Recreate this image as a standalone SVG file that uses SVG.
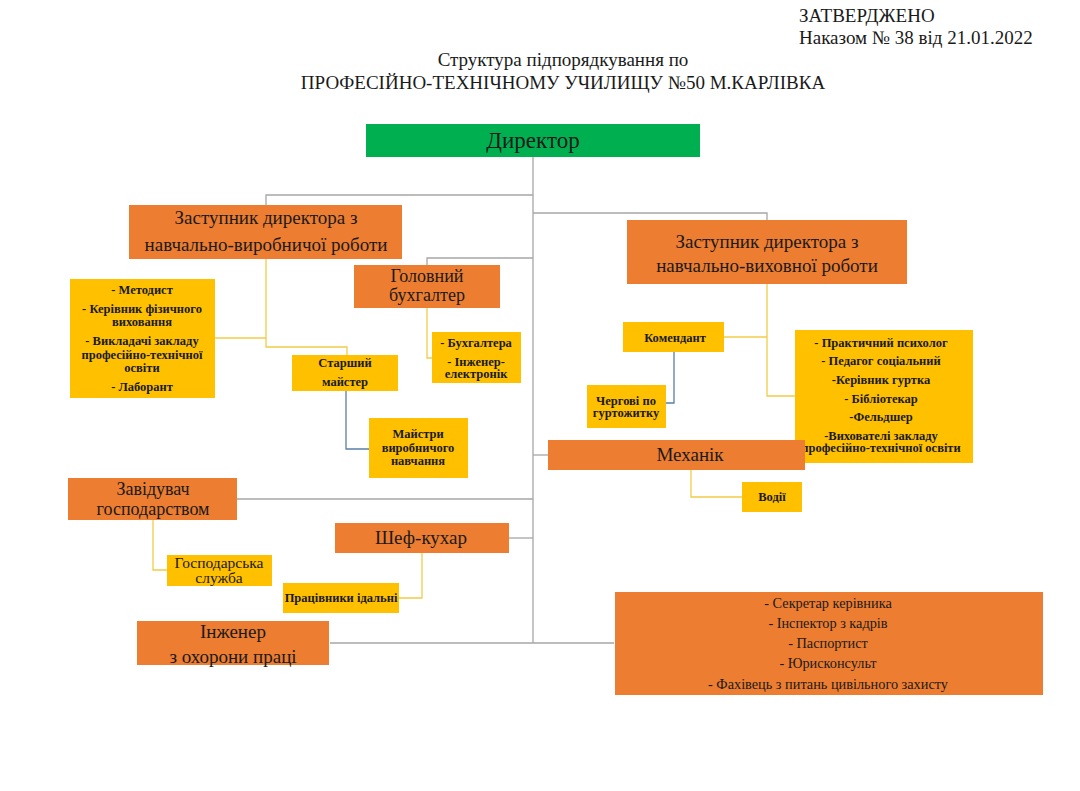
<svg xmlns="http://www.w3.org/2000/svg" width="1080" height="791" viewBox="0 0 1080 791">
<style>
text{font-family:"Liberation Serif","Times New Roman","DejaVu Serif",serif;fill:#1a1a1a;text-anchor:middle}
.hdr{text-anchor:start;font-size:19px}
.ttl{font-size:19px}
.or{fill:#ED7D31}
.ye{fill:#FFC000}
.gr{fill:#00B050}
.big{font-size:19px}
.mid{font-size:18px}
.sm{font-size:12.5px;font-weight:bold}
.sc{font-size:14.3px}
.g{stroke:#A6A6A6;stroke-width:1.3;fill:none}
.y{stroke:#F2CC4A;stroke-width:1.3;fill:none}
.b{stroke:#5A7FA8;stroke-width:1.3;fill:none}
</style>
<rect width="1080" height="791" fill="#ffffff"/>
<g id="header">
<text class="hdr" x="799" y="22">ЗАТВЕРДЖЕНО</text>
<text class="hdr" x="799" y="44">Наказом № 38 від 21.01.2022</text>
<text class="ttl" x="563" y="66">Структура підпорядкування по</text>
<text class="ttl" x="563" y="89">ПРОФЕСІЙНО-ТЕХНІЧНОМУ УЧИЛИЩУ №50 М.КАРЛІВКА</text>
</g>
<g id="connectors">
<path class="g" d="M533,157 V643"/>
<path class="g" d="M533,195 H266 V205"/>
<path class="g" d="M533,213 H767 V220"/>
<path class="g" d="M533,258 H427 V265"/>
<path class="g" d="M533,455 H548"/>
<path class="g" d="M533,499 H237"/>
<path class="g" d="M533,538 H509"/>
<path class="g" d="M330,643 H614"/>
<path class="y" d="M266,259 V347 H347 V355"/>
<path class="y" d="M215,338 H266"/>
<path class="y" d="M427,308 V358 H432"/>
<path class="b" d="M346,391 V449 H369"/>
<path class="y" d="M767,284 V396 H795"/>
<path class="y" d="M724,337 H767"/>
<path class="b" d="M674,352 V403 H666"/>
<path class="y" d="M691,470 V497 H742"/>
<path class="y" d="M153,520 V570 H167"/>
<path class="y" d="M422,553 V598 H399"/>
</g>
<g id="director">
<rect class="gr" x="366" y="124" width="334" height="33"/>
<text x="533" y="148" style="font-size:23px">Директор</text>
</g>
<g id="deputy-production">
<rect class="or" x="129" y="205" width="273" height="54"/>
<text class="big" x="266" y="224">Заступник директора з</text>
<text class="big" x="266" y="251">навчально-виробничої роботи</text>
</g>
<g id="methodist">
<rect class="ye" x="70" y="279" width="145" height="119"/>
<text class="sm" x="142" y="294">- Методист</text>
<text class="sm" x="142" y="313">- Керівник фізичного</text>
<text class="sm" x="142" y="326">виховання</text>
<text class="sm" x="142" y="345">- Викладачі закладу</text>
<text class="sm" x="142" y="359">професійно-технічної</text>
<text class="sm" x="142" y="372">освіти</text>
<text class="sm" x="142" y="391">- Лаборант</text>
</g>
<g id="senior-master">
<rect class="ye" x="292" y="355" width="106" height="36"/>
<text class="sm" x="345" y="367">Старший</text>
<text class="sm" x="345" y="386">майстер</text>
</g>
<g id="masters">
<rect class="ye" x="369" y="418" width="99" height="60"/>
<text class="sm" x="418" y="438">Майстри</text>
<text class="sm" x="418" y="452">виробничого</text>
<text class="sm" x="418" y="465">навчання</text>
</g>
<g id="chief-accountant">
<rect class="or" x="354" y="265" width="146" height="43"/>
<text class="mid" x="427" y="282">Головний</text>
<text class="mid" x="427" y="301">бухгалтер</text>
</g>
<g id="accountants">
<rect class="ye" x="432" y="332" width="89" height="51"/>
<text class="sm" x="476" y="347">- Бухгалтера</text>
<text class="sm" x="476" y="366">- Інженер-</text>
<text class="sm" x="476" y="378">електронік</text>
</g>
<g id="deputy-education">
<rect class="or" x="627" y="220" width="280" height="64"/>
<text class="big" x="767" y="248">Заступник директора з</text>
<text class="big" x="767" y="272">навчально-виховної роботи</text>
</g>
<g id="commandant">
<rect class="ye" x="623" y="322" width="101" height="30"/>
<text class="sm" x="675" y="342">Комендант</text>
</g>
<g id="dorm-duty">
<rect class="ye" x="587" y="385" width="79" height="43"/>
<text class="sm" x="626" y="405">Чергові по</text>
<text class="sm" x="626" y="417">гуртожитку</text>
</g>
<g id="psychologist">
<rect class="ye" x="795" y="330" width="178" height="133"/>
<text class="sm" x="881" y="347">- Практичний психолог</text>
<text class="sm" x="881" y="365">- Педагог соціальний</text>
<text class="sm" x="881" y="384">-Керівник гуртка</text>
<text class="sm" x="881" y="403">- Бібліотекар</text>
<text class="sm" x="881" y="421">-Фельдшер</text>
<text class="sm" x="881" y="440">-Вихователі закладу</text>
<text class="sm" x="881" y="452">професійно-технічної освіти</text>
</g>
<g id="mechanic">
<rect class="or" x="548" y="440" width="257" height="30"/>
<text class="big" x="690" y="461">Механік</text>
</g>
<g id="drivers">
<rect class="ye" x="742" y="482" width="60" height="30"/>
<text class="sm" x="772" y="501">Водії</text>
</g>
<g id="housekeeper">
<rect class="or" x="68" y="478" width="169" height="42"/>
<text class="mid" x="153" y="495">Завідувач</text>
<text class="mid" x="153" y="515">господарством</text>
</g>
<g id="household-service">
<rect class="ye" x="167" y="555" width="105" height="31"/>
<text x="219" y="568" style="font-size:15.5px">Господарська</text>
<text x="219" y="583" style="font-size:15.5px">служба</text>
</g>
<g id="chef">
<rect class="or" x="335" y="523" width="174" height="30"/>
<text class="big" x="421" y="544">Шеф-кухар</text>
</g>
<g id="canteen">
<rect class="ye" x="283" y="583" width="116" height="30"/>
<text class="sm" x="341" y="602">Працівники ідальні</text>
</g>
<g id="safety-engineer">
<rect class="or" x="137" y="621" width="192" height="44"/>
<text class="big" x="233" y="638">Інженер</text>
<text class="big" x="233" y="663">з охорони праці</text>
</g>
<g id="staff">
<rect class="or" x="615" y="592" width="428" height="103"/>
<text class="sc" x="828" y="608">- Секретар керівника</text>
<text class="sc" x="828" y="628">- Інспектор з кадрів</text>
<text class="sc" x="828" y="648">- Паспортист</text>
<text class="sc" x="828" y="668">- Юрисконсульт</text>
<text class="sc" x="828" y="689">- Фахівець з питань цивільного захисту</text>
</g>
</svg>
